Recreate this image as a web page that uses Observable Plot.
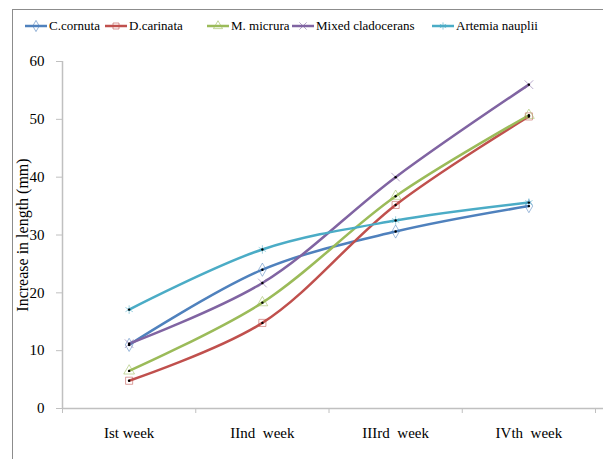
<!DOCTYPE html>
<html><head><meta charset="utf-8">
<script src="https://cdn.jsdelivr.net/npm/d3@7"></script>
<script src="https://cdn.jsdelivr.net/npm/@observablehq/plot@0.6"></script>
<style>
body{margin:0;background:#fff;}
#wrap{position:relative;width:603px;height:459px;overflow:hidden;background:#fff;font-family:'Liberation Serif','Times New Roman',serif;}
#frame{position:absolute;left:12px;top:9px;width:700px;height:600px;border-left:1px solid #8c8c8c;border-top:1px solid #8c8c8c;}
#legend{position:absolute;left:0;top:0;width:603px;height:50px;}
.item{position:absolute;top:18px;font-size:13px;display:flex;align-items:center;white-space:nowrap;color:#000;}
.item svg{margin-right:2px;}
#chart{position:absolute;left:0;top:50px;}
#chart text{white-space:pre;}
</style></head>
<body><div id="wrap"><div id="frame"></div><div id="legend"></div><div id="chart"></div></div>
<script>
const weeks = ["Ist week", "IInd  week", "IIIrd  week", "IVth  week"];
const seriesNames = ["C.cornuta", "D.carinata", "M. micrura", "Mixed cladocerans", "Artemia nauplii"];
const cCornuta = [11.0, 24.0, 30.6, 35.0];
const dCarinata = [4.8, 14.8, 35.2, 50.5];
const mMicrura = [6.5, 18.3, 36.7, 50.7];
const mixedCladocerans = [11.2, 21.7, 40.0, 56.0];
const artemiaNauplii = [17.1, 27.5, 32.5, 35.6];
const yTicks = [0, 10, 20, 30, 40, 50, 60];
const yLabel = "Increase in length (mm)";
const colors = ["#4F81BD", "#C0504D", "#9BBB59", "#8064A2", "#4BACC6"];
const symbols = ["diamond", "square", "triangle", "times", "asterisk"];

const seriesValues = [cCornuta, dCarinata, mMicrura, mixedCladocerans, artemiaNauplii];
const data = [];
seriesNames.forEach((s, i) => seriesValues[i].forEach((v, j) => data.push({series: s, xi: j + 1, value: v})));

const chart = Plot.plot({
  width: 603, height: 409,
  marginLeft: 62, marginRight: 0, marginTop: 11, marginBottom: 51,
  style: {fontFamily: "Liberation Serif", fontSize: "14px", background: "transparent", color: "#000"},
  x: {type: "linear", domain: [0.5, 4.56]},
  y: {domain: [0, 60]},
  color: {domain: seriesNames, range: colors},
  symbol: {domain: seriesNames, range: symbols},
  marks: [
    Plot.ruleY([0], {stroke: "#c0c0c0", strokeWidth: 1.5}),
    Plot.ruleX([0.5], {stroke: "#c0c0c0", strokeWidth: 1.5}),
    Plot.axisY({ticks: yTicks, tickSize: 6, tickPadding: 12, stroke: "#c0c0c0", fontSize: 15, label: null}),
    Plot.axisX({ticks: [0.5, 1.5, 2.5, 3.5, 4.5], tickSize: 5, tickFormat: () => "", stroke: "#c0c0c0", label: null}),
    Plot.axisX({ticks: [1, 2, 3, 4], tickSize: 0, tickPadding: 19, tickFormat: i => weeks[i - 1], fontSize: 15, label: null}),
    Plot.line(data, {x: "xi", y: "value", z: "series", stroke: "series", curve: "catmull-rom", strokeWidth: 2.5}),
    Plot.dot(data, {x: "xi", y: "value", symbol: "series", stroke: "series", r: 4, strokeWidth: 1, fill: "none", strokeOpacity: 0.55}),
    Plot.dot(data, {x: "xi", y: "value", r: 1.2, fill: "#000"}),
    Plot.text([yLabel], {frameAnchor: "left", textAnchor: "middle", dx: -40, rotate: -90, fontSize: 16})
  ]
});
document.getElementById("chart").appendChild(chart);

// legend
const legendLeft = [25, 105, 207, 292, 432];
const legend = document.getElementById("legend");
seriesNames.forEach((s, i) => {
  const item = document.createElement("div");
  item.className = "item";
  item.style.left = legendLeft[i] + "px";
  const sw = d3.create("svg").attr("width", 22).attr("height", 14);
  sw.append("line").attr("x1", 0).attr("x2", 22).attr("y1", 7).attr("y2", 7).attr("stroke", colors[i]).attr("stroke-width", 2.5);
  const sym = d3.symbol().type({diamond: d3.symbolDiamond, square: d3.symbolSquare, triangle: d3.symbolTriangle, times: d3.symbolTimes, asterisk: d3.symbolAsterisk}[symbols[i]]).size(36);
  sw.append("path").attr("d", sym()).attr("transform", "translate(11,7)").attr("fill", "none").attr("stroke", colors[i]).attr("stroke-opacity", 0.6).attr("stroke-width", 1);
  item.appendChild(sw.node());
  const t = document.createElement("span");
  t.textContent = s;
  item.appendChild(t);
  legend.appendChild(item);
});
</script>
</body></html>
